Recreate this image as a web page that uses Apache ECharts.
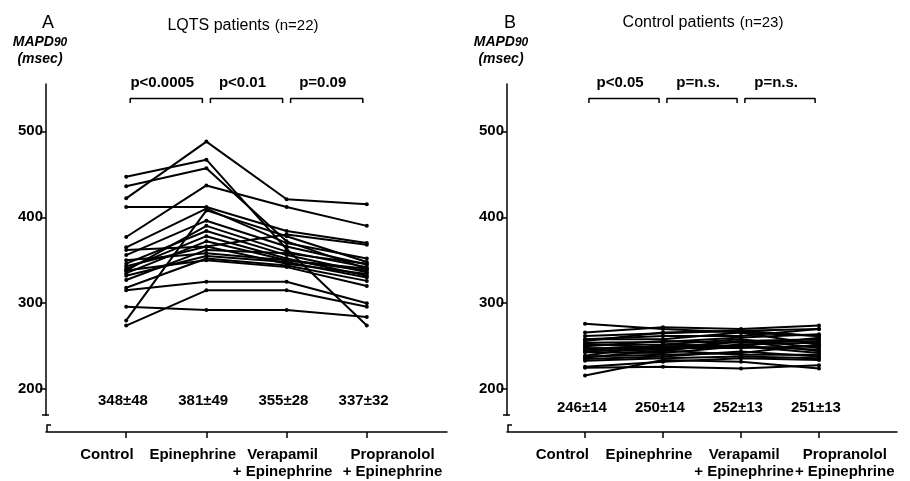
<!DOCTYPE html>
<html>
<head>
<meta charset="utf-8">
<script src="https://cdn.jsdelivr.net/npm/echarts/dist/echarts.min.js"></script>
<style>
html, body { margin: 0; padding: 0; background: #fff; }
#chart { width: 910px; height: 481px; }
</style>
</head>
<body>
<div id="chart"></div>
<script>
// treatment steps (x axis)
var steps = ["Control", "Epinephrine", "Verapamil", "Propranolol"];
var stepSub = ["", "", "+ Epinephrine", "+ Epinephrine"];
var yTicks = [200, 300, 400, 500];

// LQTS patients (n=22), MAPD90 in msec, one entry per patient
var lqtsControl = [422, 447, 436, 377, 412, 280, 365, 356, 338, 346, 340, 335, 343, 327, 350, 332, 318, 338, 274, 296, 315, 362];
var lqtsEpi     = [488, 467, 457, 437, 412, 408, 410, 396, 390, 384, 378, 372, 366, 362, 358, 355, 352, 350, 315, 292, 325, 366];
var lqtsVera    = [421, 363, 372, 412, 384, 378, 370, 366, 360, 356, 352, 350, 346, 358, 350, 348, 344, 342, 315, 292, 325, 380];
var lqtsProp    = [415, 274, 340, 390, 370, 348, 352, 345, 342, 336, 332, 338, 334, 346, 340, 330, 326, 320, 296, 284, 300, 368];
var lqtsStats = ["348±48", "381±49", "355±28", "337±32"];
var lqtsPvals = ["p<0.0005", "p<0.01", "p=0.09"];

// Control patients (n=23)
var ctrlControl = [276, 266, 262, 258, 258, 256, 254, 253, 251, 250, 248, 247, 246, 244, 243, 239, 238, 237, 235, 233, 226, 225, 216];
var ctrlEpi     = [270, 272, 265, 262, 258, 266, 255, 248, 252, 256, 246, 250, 244, 248, 242, 252, 240, 245, 238, 236, 232, 226, 234];
var ctrlVera    = [266, 270, 268, 262, 266, 268, 260, 256, 258, 254, 252, 250, 256, 248, 250, 250, 242, 240, 244, 238, 236, 224, 232];
var ctrlProp    = [262, 274, 270, 270, 252, 262, 264, 258, 248, 256, 254, 260, 244, 250, 246, 242, 252, 240, 238, 236, 234, 228, 224];
var ctrlStats = ["246±14", "250±14", "252±13", "251±13"];
var ctrlPvals = ["p<0.05", "p=n.s.", "p=n.s."];

var font = "Liberation Sans, Arial, sans-serif";
var myChart = echarts.init(document.getElementById("chart"));

function txt(size, weight, extra) {
  var o = { fontFamily: font, fontSize: size, fontWeight: weight || "normal", color: "#000" };
  for (var k in extra) o[k] = extra[k];
  return o;
}

function xLabelFmt(v) {
  var i = Math.round(v);
  return stepSub[i] ? steps[i] + "\n" + stepSub[i] : steps[i];
}

// labels are set a bit off their ticks, like in the print (offsets in category units)
function makeAxes(idx, labelShift) {
  var x = {
    type: "value", gridIndex: idx, min: -1, max: 4, offset: 17,
    axisLine: { show: true, onZero: false, lineStyle: { color: "#000", width: 1.5 } },
    axisTick: { show: true, customValues: [0, 1, 2, 3], length: 6, lineStyle: { color: "#000", width: 1.5 } },
    axisLabel: Object.assign({
      show: true, hideOverlap: false, interval: 0,
      customValues: [0, 1, 2, 3].map(function (v, i) { return v + labelShift[i]; }),
      margin: 14, lineHeight: 17, formatter: xLabelFmt
    }, txt(15, "bold")),
    splitLine: { show: false }
  };
  var y = {
    type: "value", gridIndex: idx, min: 170, max: 555,
    name: "{m|MAPD}{s|90}\n{m|(msec)}",
    nameLocation: "end", nameGap: 16,
    nameTextStyle: {
      padding: [0, 12, 0, 0],
      rich: {
        m: txt(14, "bold", { fontStyle: "italic", lineHeight: 17 }),
        s: txt(12, "bold", { fontStyle: "italic", lineHeight: 17 })
      }
    },
    axisLine: { show: true, onZero: false, lineStyle: { color: "#000", width: 1.5 } },
    axisTick: { show: true, customValues: yTicks, length: 6, lineStyle: { color: "#000", width: 1.5 } },
    axisLabel: Object.assign({ customValues: yTicks, margin: 3, hideOverlap: false }, txt(15, "bold")),
    splitLine: { show: false }
  };
  return [x, y];
}

function patientSeries(idx, a, b, c, d) {
  var out = [];
  for (var i = 0; i < a.length; i++) {
    out.push({
      type: "line", xAxisIndex: idx, yAxisIndex: idx, silent: true,
      data: [[0, a[i]], [1, b[i]], [2, c[i]], [3, d[i]]],
      symbol: "circle", symbolSize: 4, showSymbol: true,
      lineStyle: { color: "#000", width: 2 },
      itemStyle: { color: "#000" }
    });
  }
  return out;
}

function bracketSeries(idx, pvals) {
  var out = [];
  var lvl = 538, drop = 5;
  for (var i = 0; i < pvals.length; i++) {
    out.push({
      type: "line", xAxisIndex: idx, yAxisIndex: idx, silent: true, symbol: "none",
      data: [[i + 0.05, lvl - drop], [i + 0.05, lvl], [i + 0.95, lvl], [i + 0.95, lvl - drop]],
      lineStyle: { color: "#000", width: 1.5 }
    });
  }
  out.push({
    type: "scatter", xAxisIndex: idx, yAxisIndex: idx, silent: true, symbolSize: 1,
    itemStyle: { color: "transparent", opacity: 1 },
    data: pvals.map(function (p, i) { return { value: [i + 0.45, lvl], name: p }; }),
    label: Object.assign({ show: true, position: "top", distance: 8, formatter: "{b}" }, txt(15, "bold")),
    labelLayout: { hideOverlap: false }
  });
  return out;
}

function statSeries(idx, stats, yv) {
  return {
    type: "scatter", xAxisIndex: idx, yAxisIndex: idx, silent: true, symbolSize: 1,
    itemStyle: { color: "transparent", opacity: 1 },
    data: stats.map(function (s, i) { return { value: [i - 0.04, yv], name: s }; }),
    label: Object.assign({ show: true, position: "inside", formatter: "{b}" }, txt(15, "bold")),
    labelLayout: { hideOverlap: false }
  };
}

var axA = makeAxes(0, [-0.24, -0.17, -0.05, 0.32]);
var axB = makeAxes(1, [-0.29, -0.18, 0.04, 0.33]);

function axisBreak(x) {
  return [
    { type: "polyline", shape: { points: [[x - 4, 415], [x + 3, 415]] }, style: { stroke: "#000", lineWidth: 1.5, fill: null } },
    { type: "polyline", shape: { points: [[x + 5, 425], [x + 1, 425], [x + 1, 432]] }, style: { stroke: "#000", lineWidth: 1.5, fill: null } }
  ];
}

var option = {
  animation: false,
  backgroundColor: "#fff",
  title: [
    { text: "A", left: 37, top: 9, textStyle: txt(18) },
    { text: "{a|LQTS patients} {b|(n=22)}", left: 238, top: 12, textAlign: "center",
      textStyle: { rich: { a: txt(16), b: txt(15) } } },
    { text: "B", left: 499, top: 9, textStyle: txt(18) },
    { text: "{a|Control patients} {b|(n=23)}", left: 698, top: 9, textAlign: "center",
      textStyle: { rich: { a: txt(16), b: txt(15) } } }
  ],
  grid: [
    { left: 46, top: 84, width: 401, height: 331 },
    { left: 507, top: 84, width: 390, height: 331 }
  ],
  xAxis: [axA[0], axB[0]],
  yAxis: [axA[1], axB[1]],
  graphic: axisBreak(46).concat(axisBreak(507)),
  series: []
    .concat(patientSeries(0, lqtsControl, lqtsEpi, lqtsVera, lqtsProp))
    .concat(patientSeries(1, ctrlControl, ctrlEpi, ctrlVera, ctrlProp))
    .concat(bracketSeries(0, lqtsPvals))
    .concat(bracketSeries(1, ctrlPvals))
    .concat([statSeries(0, lqtsStats, 187), statSeries(1, ctrlStats, 178)])
};

myChart.setOption(option);
</script>
</body>
</html>
